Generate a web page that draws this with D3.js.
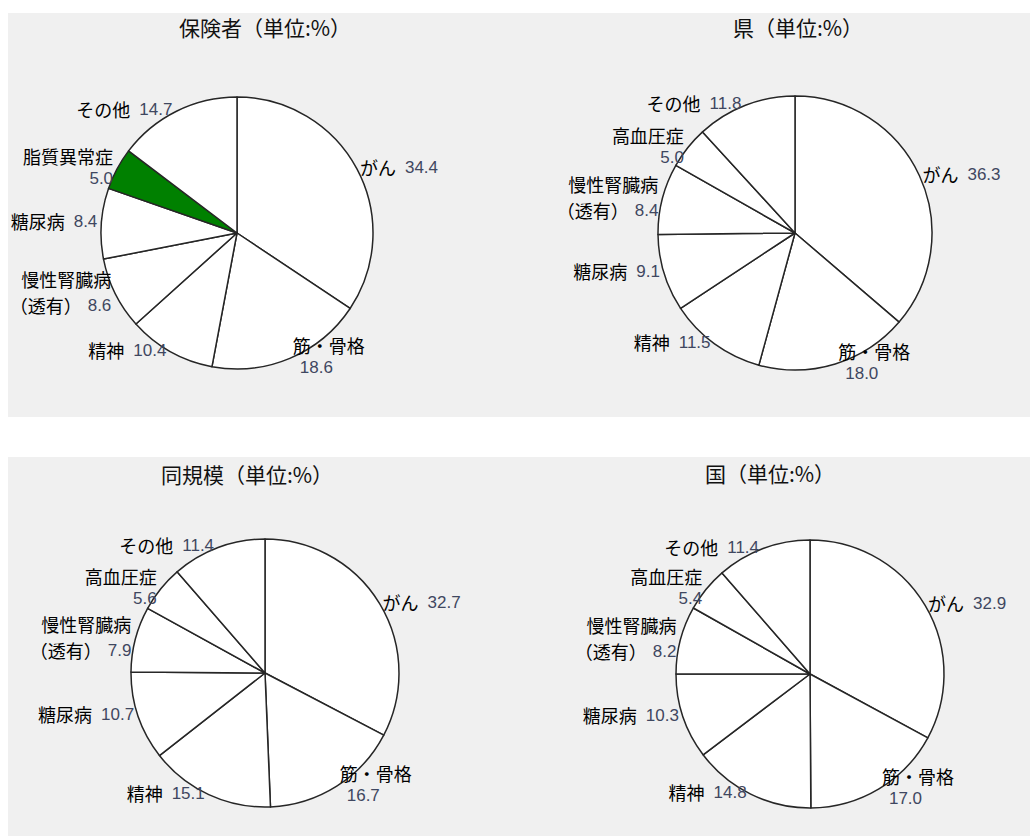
<!DOCTYPE html>
<html>
<head>
<meta charset="utf-8">
<script src="https://cdn.jsdelivr.net/npm/d3@7/dist/d3.min.js"></script>
<style>
  html, body { margin: 0; padding: 0; background: #ffffff; }
  svg { display: block; }
</style>
</head>
<body>
<script>
// ---------------- data ----------------
const titles = ["保険者（単位:%）", "県（単位:%）", "同規模（単位:%）", "国（単位:%）"];

const categoriesInsurer = ["がん", "筋・骨格", "精神", "慢性腎臓病\n（透有）", "糖尿病", "脂質異常症", "その他"];
const categoriesOther   = ["がん", "筋・骨格", "精神", "糖尿病", "慢性腎臓病\n（透有）", "高血圧症", "その他"];

const valuesInsurer  = [34.4, 18.6, 10.4, 8.6, 8.4, 5.0, 14.7];
const valuesPref     = [36.3, 18.0, 11.5, 9.1, 8.4, 5.0, 11.8];
const valuesSameSize = [32.7, 16.7, 15.1, 10.7, 7.9, 5.6, 11.4];
const valuesNation   = [32.9, 17.0, 14.8, 10.3, 8.2, 5.4, 11.4];

// categories whose value is printed on its own line
const valueOnNewLine = ["筋・骨格", "脂質異常症", "高血圧症"];
// highlighted slice (first panel only)
const highlightCategory = "脂質異常症";

// ---------------- layout ----------------
const W = 1030, H = 836;
const panels = [
  { title: titles[0], cats: categoriesInsurer, vals: valuesInsurer,  cx: 237, cy: 233, r: 136, tx: 265, ty: 27, highlight: true },
  { title: titles[1], cats: categoriesOther,   vals: valuesPref,     cx: 795, cy: 233, r: 137, tx: 798, ty: 27, highlight: false },
  { title: titles[2], cats: categoriesOther,   vals: valuesSameSize, cx: 265, cy: 673, r: 134, tx: 247, ty: 474, highlight: false },
  { title: titles[3], cats: categoriesOther,   vals: valuesNation,   cx: 810, cy: 674, r: 134, tx: 770, ty: 473, highlight: false }
];

const svg = d3.select("body").append("svg").attr("width", W).attr("height", H);

const bands = [{ y: 13, h: 404 }, { y: 457, h: 379 }];
const defs = svg.append("defs");
defs.append("clipPath").attr("id", "clipAll")
  .selectAll("rect").data(bands).join("rect")
  .attr("x", 8).attr("y", d => d.y).attr("width", W - 8).attr("height", d => d.h);

svg.selectAll("rect.band").data(bands).join("rect")
  .attr("class", "band")
  .attr("x", 8).attr("y", d => d.y).attr("width", W - 8).attr("height", d => d.h)
  .attr("fill", "#f0f0f0");

const root = svg.append("g").attr("clip-path", "url(#clipAll)");

const jpFont = "'Noto Sans CJK JP', 'Noto Sans CJK SC', sans-serif";
const numFont = "'Liberation Sans', Arial, sans-serif";
const numColor = "#3f4760";
const jpSize = 18, numSize = 17;

const pie = d3.pie().sort(null).value(d => d.value).startAngle(0).endAngle(2 * Math.PI);

panels.forEach(p => {
  const g = root.append("g");
  g.append("text")
    .attr("x", p.tx).attr("y", p.ty)
    .attr("text-anchor", "middle").attr("dominant-baseline", "central")
    .attr("font-family", jpFont).attr("font-size", 21).attr("fill", "#111")
    .text(p.title);

  const data = p.cats.map((c, i) => ({ cat: c, value: p.vals[i] }));
  const arcs = pie(data);
  const arc = d3.arc().innerRadius(0).outerRadius(p.r);
  const edge = d3.arc().innerRadius(p.r).outerRadius(p.r);

  const pg = g.append("g").attr("transform", `translate(${p.cx},${p.cy})`);
  pg.selectAll("path").data(arcs).join("path")
    .attr("d", arc)
    .attr("fill", d => (p.highlight && d.data.cat === highlightCategory) ? "#008000" : "#ffffff")
    .attr("stroke", "#262626").attr("stroke-width", 1.5).attr("stroke-linejoin", "round");

  // labels: one <text> per slice, lines as tspans
  arcs.forEach(d => {
    const [ex, ey] = edge.centroid(d);
    const px = p.cx + ex, py = p.cy + ey;
    const right = ex >= 0;
    const valTxt = d.data.value.toFixed(1);
    const nameParts = d.data.cat.split("\n");
    let lines, lh = 22;
    if (nameParts.length > 1) {
      lines = [[{ t: nameParts[0], num: false }], [{ t: nameParts[1], num: false }, { t: valTxt, num: true, gap: 6 }]];
      lh = 26;
    } else if (valueOnNewLine.includes(d.data.cat)) {
      lines = [[{ t: d.data.cat, num: false }], [{ t: valTxt, num: true }]];
    } else {
      lines = [[{ t: d.data.cat, num: false }, { t: valTxt, num: true, gap: 9 }]];
    }
    const y0 = py - (lines.length - 1) * lh / 2 - 2;
    const t = g.append("text")
      .attr("text-anchor", right ? "start" : "end")
      .attr("dominant-baseline", "central");
    lines.forEach((ln, li) => {
      let x = right ? px + 3 : px - 4;
      if (right && li === 1 && lines.length > 1) x += 7;
      ln.forEach((seg, si) => {
        const ts = t.append("tspan")
          .attr("font-family", seg.num ? numFont : jpFont)
          .attr("font-size", seg.num ? numSize : jpSize)
          .attr("fill", seg.num ? numColor : "#000")
          .text(seg.t);
        if (si === 0) ts.attr("x", x).attr("y", y0 + li * lh);
        if (seg.gap) ts.attr("dx", seg.gap);
      });
    });
  });
});
</script>
</body>
</html>
